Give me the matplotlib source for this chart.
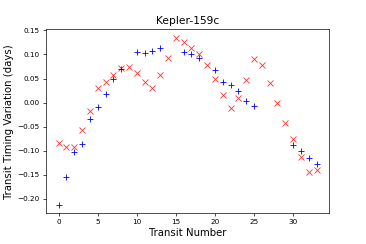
import numpy as np
import matplotlib.pyplot as plt

# red x series (all transits)
red_n = np.arange(34)
red_ttv = [-0.084, -0.092, -0.093, -0.057, -0.017, 0.031, 0.042, 0.057, 0.072, 0.073,
           0.061, 0.043, 0.031, 0.058, 0.093, 0.135, 0.126, 0.114, 0.101, 0.078,
           0.050, 0.015, -0.012, 0.009, 0.047, 0.091, 0.078, 0.041, 0.000, -0.042,
           -0.075, -0.114, -0.144, -0.139]

# blue + series (some transits missing)
blue_n = [0, 1, 2, 3, 4, 5, 6, 7, 8, 10, 11, 12, 13, 16, 17, 18, 20, 21, 22, 23, 24, 25,
          30, 31, 32, 33]
blue_ttv = [-0.212, -0.154, -0.103, -0.085, -0.035, -0.009, 0.0175, 0.050, 0.070,
            0.106, 0.103, 0.107, 0.114, 0.105, 0.101, 0.093, 0.068, 0.043, 0.037,
            0.024, 0.003, -0.007, -0.089, -0.100, -0.115, -0.127]

plt.rcParams['xtick.labelsize'] = 8.5
plt.rcParams['ytick.labelsize'] = 8.5

fig = plt.figure(figsize=(6, 4), dpi=61)
plt.subplots_adjust(bottom=0.127)
ax = plt.gca()
plt.plot(red_n, red_ttv, 'rx', alpha=0.8)
plt.plot(blue_n, blue_ttv, 'b+')
plt.title('Kepler-159c', fontsize=12.5)
plt.xlabel('Transit Number', fontsize=12)
plt.ylabel('Transit Timing Variation (days)', fontsize=12)
plt.savefig('out.png', dpi=61)
